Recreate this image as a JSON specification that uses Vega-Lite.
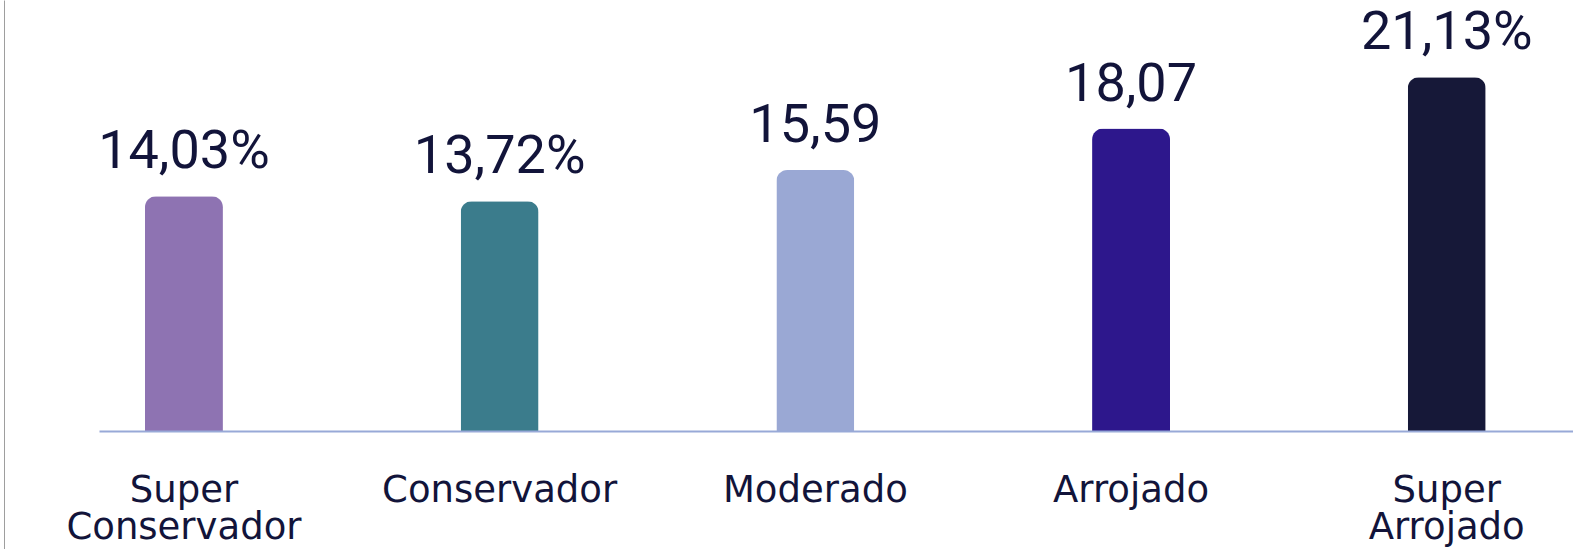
{
  "$schema": "https://vega.github.io/schema/vega-lite/v6.json",
  "width": 1474,
  "height": 549,
  "padding": {"left": 99, "top": 0, "right": 0, "bottom": 0},
  "autosize": {"type": "none"},
  "background": "#ffffff",
  "config": {"view": {"stroke": null}},
  "data": {
    "values": [
      {"perfil": "Super Conservador", "valor": 14.03, "rotulo": "14,03%"},
      {"perfil": "Conservador", "valor": 13.72, "rotulo": "13,72%"},
      {"perfil": "Moderado", "valor": 15.59, "rotulo": "15,59"},
      {"perfil": "Arrojado", "valor": 18.07, "rotulo": "18,07"},
      {"perfil": "Super Arrojado", "valor": 21.13, "rotulo": "21,13%"}
    ]
  },
  "encoding": {
    "x": {
      "field": "perfil",
      "type": "nominal",
      "sort": null,
      "scale": {"paddingInner": 0.753, "paddingOuter": 0.211, "align": 0.345},
      "axis": {
        "orient": "bottom",
        "offset": -118,
        "title": null,
        "ticks": false,
        "tickSize": 0,
        "domain": true,
        "domainColor": "#98A9D7",
        "domainWidth": 2,
        "zindex": 1,
        "labelAngle": 0,
        "labelPadding": 41,
        "labelFont": "DejaVu Sans",
        "labelFontSize": 37,
        "labelColor": "#12143A",
        "labelLineHeight": 37,
        "labelBaseline": "top",
        "labelLimit": 400,
        "labelOverlap": false,
        "labelFlush": false,
        "labelExpr": "indexof(datum.value, 'Super ') == 0 ? ['Super', substring(datum.value, 6)] : datum.value"
      }
    },
    "y": {
      "field": "valor",
      "type": "quantitative",
      "scale": {"domain": [-7.05, 25.75], "nice": false, "zero": false},
      "axis": {
        "orient": "left",
        "offset": 95,
        "title": null,
        "labels": false,
        "ticks": false,
        "grid": false,
        "domain": true,
        "domainColor": "#9E9E9E",
        "domainWidth": 1
      }
    }
  },
  "layer": [
    {
      "mark": {"type": "bar", "cornerRadiusTopLeft": 11, "cornerRadiusTopRight": 11},
      "encoding": {
        "color": {
          "field": "perfil",
          "type": "nominal",
          "scale": {
            "domain": ["Super Conservador", "Conservador", "Moderado", "Arrojado", "Super Arrojado"],
            "range": ["#8E73B2", "#3B7C8C", "#9AA8D4", "#2D178C", "#161838"]
          },
          "legend": null
        }
      }
    },
    {
      "mark": {
        "type": "text",
        "font": "Roboto",
        "fontSize": 54,
        "color": "#12143A",
        "baseline": "alphabetic",
        "align": "center",
        "dy": -28
      },
      "encoding": {
        "text": {"field": "rotulo", "type": "nominal"}
      }
    }
  ]
}
